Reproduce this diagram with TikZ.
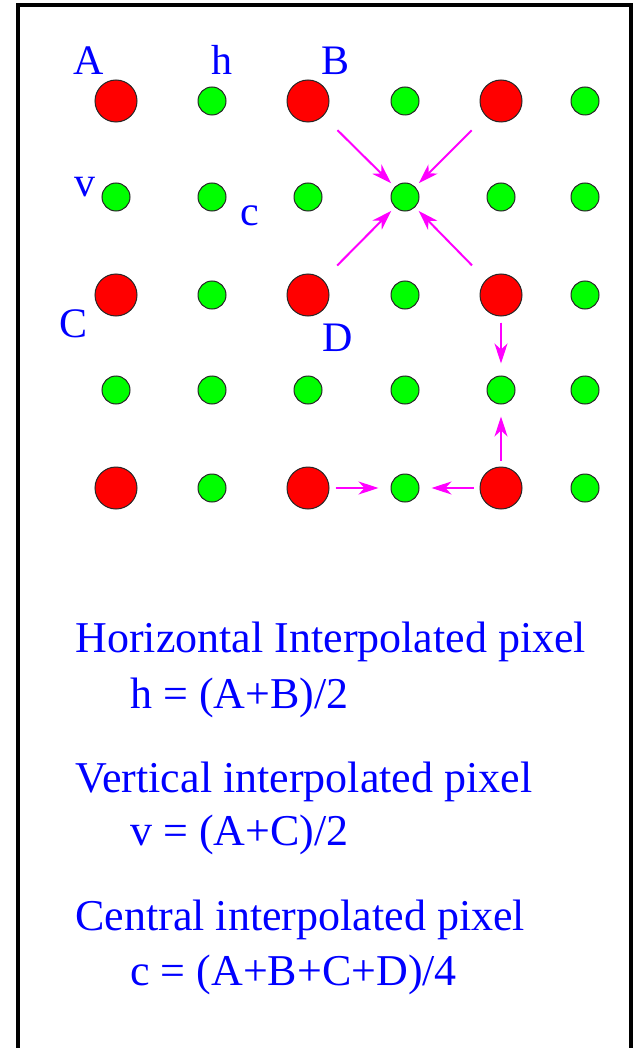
\documentclass[tikz,border=0pt]{standalone}
\usepackage{fontspec}
\setmainfont{Liberation Serif}
\usetikzlibrary{arrows.meta, positioning}
\definecolor{cRed}{HTML}{FF0000}
\definecolor{cGreen}{HTML}{00FF00}
\definecolor{cText}{HTML}{0000FF}
\definecolor{cArrow}{HTML}{FF00FF}

\begin{document}
\begin{tikzpicture}[
  x=0.5pt, y=-0.5pt,
  >={Stealth[length=10pt, width=6.5pt, inset=3pt]},
  px/.style={circle, draw=black!85, line width=0.5pt, fill=#1, inner sep=0pt},
  redpx/.style={px=cRed, minimum size=21pt},
  greenpx/.style={px=cGreen, minimum size=14pt},
  lbl/.style={text=cText, inner sep=0pt, anchor=base, font=\fontsize{21}{24}\selectfont},
  txt/.style={text=cText, inner sep=0pt, anchor=base west, font=\fontsize{22}{26}\selectfont},
  flow/.style={->, line width=1pt, draw=cArrow, fill=cArrow},
  diag/.style={flow, shorten <=10pt, shorten >=2.5pt},
  near/.style={flow, shorten <=3pt, shorten >=6pt},
]
\useasboundingbox (0,0) rectangle (640,1048);

% frame (open at the bottom edge of the page)
\draw[line width=1.6pt] (18,5) rectangle (631,1070);

% =========================== pixel grid ===========================
% red = original pixels, green = interpolated ones
\foreach \x [count=\i] in {116,212,308,405,501,585}
  \foreach \y [count=\j] in {101,197,295,390,488} {
    \pgfmathtruncatemacro\orig{and(isodd(\i),isodd(\j))}
    \ifnum\orig=1
      \node[redpx] (p\j\i) at (\x,\y) {};
    \else
      \node[greenpx] (p\j\i) at (\x,\y) {};
    \fi
  }

% pixel names
\node[lbl] (lA) at (89,75)  {A};
\node[lbl] (lh) at (222,75) {h};
\node[lbl] (lB) at (336,75) {B};
\node[lbl] (lv) at (85,197) {v};
\node[lbl] (lc) at (250,226){c};
\node[lbl] (lC) at (74,337) {C};
\node[lbl] (lD) at (338,351){D};

% =========================== interpolation arrows ===========================
\foreach \a in {p13, p15, p33, p35}
  \draw[diag] (\a) -- (p24);
\foreach \a/\b in {p35/p45, p55/p45, p53/p54, p55/p54}
  \draw[near] (\a) -- (\b);

% =========================== formulas ===========================
\node[txt] (th) at (75,652)  {Horizontal Interpolated pixel};
\node[txt] (fh) at (130,708) {h = (A+B)/2};
\node[txt] (tv) at (75,792)  {Vertical interpolated pixel};
\node[txt] (fv) at (130,845) {v = (A+C)/2};
\node[txt] (tc) at (75,930)  {Central interpolated pixel};
\node[txt] (fc) at (130,985) {c = (A+B+C+D)/4};

\end{tikzpicture}
\end{document}
